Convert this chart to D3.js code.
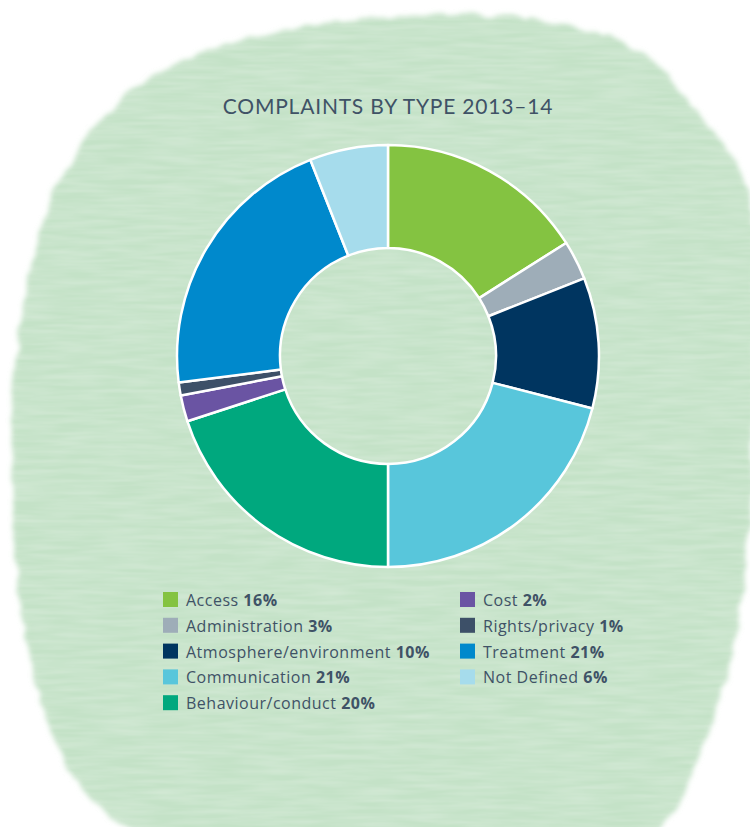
<!DOCTYPE html>
<html>
<head>
<meta charset="utf-8">
<script src="https://cdn.jsdelivr.net/npm/d3@7"></script>
<style>
  html, body { margin: 0; padding: 0; background: #fff; }
  #chart { width: 750px; height: 827px; }
</style>
</head>
<body>
<div id="chart"></div>
<script>
// data
var categories = ["Access", "Administration", "Atmosphere/environment", "Communication",
  "Behaviour/conduct", "Cost", "Rights/privacy", "Treatment", "Not Defined"];
var values = [16, 3, 10, 21, 20, 2, 1, 21, 6];
var colors = ["#84c341", "#9eadb8", "#003560", "#58c6db", "#00a87e",
  "#6a54a3", "#3d5068", "#0089cc", "#a6dcec"];
var legendCol1 = [0, 1, 2, 3, 4];
var legendCol2 = [5, 6, 7, 8];

var width = 750, height = 827;
var cx = 388, cy = 356, outerR = 211, innerR = 108;

var svg = d3.select("#chart").append("svg")
  .attr("width", width)
  .attr("height", height);

// watercolour blob in the background
var defs = svg.append("defs");
var f = defs.append("filter").attr("id", "wash")
  .attr("x", "-10%").attr("y", "-10%").attr("width", "120%").attr("height", "120%");
f.append("feTurbulence").attr("type", "fractalNoise").attr("baseFrequency", "0.05")
  .attr("numOctaves", 3).attr("seed", 4).attr("result", "noise");
f.append("feDisplacementMap").attr("in", "SourceGraphic").attr("in2", "noise")
  .attr("scale", 10).attr("xChannelSelector", "R").attr("yChannelSelector", "G").attr("result", "d");
f.append("feGaussianBlur").attr("in", "d").attr("stdDeviation", 2.5);

var tex = defs.append("filter").attr("id", "grain");
tex.append("feTurbulence").attr("type", "fractalNoise").attr("baseFrequency", "0.02 0.2")
  .attr("numOctaves", 2).attr("seed", 7).attr("result", "n");
tex.append("feColorMatrix").attr("in", "n").attr("type", "matrix")
  .attr("values", "0 0 0 0 1  0 0 0 0 1  0 0 0 0 1  0 0 0 0.3 -0.08").attr("result", "w");
tex.append("feComposite").attr("in", "w").attr("in2", "SourceGraphic").attr("operator", "in").attr("result", "wt");
tex.append("feMerge").selectAll("feMergeNode").data(["SourceGraphic", "wt"]).enter()
  .append("feMergeNode").attr("in", function(d) { return d; });

var blobPts = [[140, 85], [250, 38], [400, 16], [540, 20], [635, 48], [700, 115],
  [748, 190], [755, 330], [752, 480], [740, 610], [705, 740], [650, 835],
  [380, 845], [140, 835], [70, 770], [28, 650], [12, 490], [20, 330], [60, 180]];

var blobLine = d3.line().curve(d3.curveCatmullRomClosed.alpha(0.5));

var blob = svg.append("g").attr("filter", "url(#grain)");
blob.append("path")
  .attr("d", blobLine(blobPts))
  .attr("fill", "#c4e2c7")
  .attr("filter", "url(#wash)");

// title
svg.append("text")
  .attr("x", cx).attr("y", 114)
  .attr("text-anchor", "middle")
  .attr("font-family", "Lato, 'Open Sans', sans-serif")
  .attr("font-size", 21)
  .attr("letter-spacing", 0.8)
  .attr("fill", "#3f5266")
  .text("COMPLAINTS BY TYPE 2013\u201314");

// donut
var pie = d3.pie().sort(null).value(function(d) { return d; });
var arc = d3.arc().innerRadius(innerR).outerRadius(outerR);

var g = svg.append("g").attr("transform", "translate(" + cx + "," + cy + ")");
g.selectAll("path")
  .data(pie(values))
  .enter().append("path")
  .attr("d", arc)
  .attr("fill", function(d, i) { return colors[i]; })
  .attr("stroke", "#fff")
  .attr("stroke-width", 2.5)
  .attr("stroke-linejoin", "round");

// legend
function legend(idx, x0) {
  var rows = svg.append("g").selectAll("g")
    .data(idx)
    .enter().append("g")
    .attr("transform", function(d, j) { return "translate(" + x0 + "," + (600 + j * 25.8) + ")"; });
  rows.append("rect")
    .attr("x", 0).attr("y", -8)
    .attr("width", 15).attr("height", 15)
    .attr("fill", function(d) { return colors[d]; });
  var t = rows.append("text")
    .attr("x", 23).attr("y", 6)
    .attr("font-family", "'Open Sans', sans-serif")
    .attr("font-size", 16)
    .attr("letter-spacing", 0.5)
    .attr("fill", "#3f5266");
  t.append("tspan").text(function(d) { return categories[d] + " "; });
  t.append("tspan").attr("font-weight", "bold").text(function(d) { return values[d] + "%"; });
}
legend(legendCol1, 163);
legend(legendCol2, 460);
</script>
</body>
</html>
